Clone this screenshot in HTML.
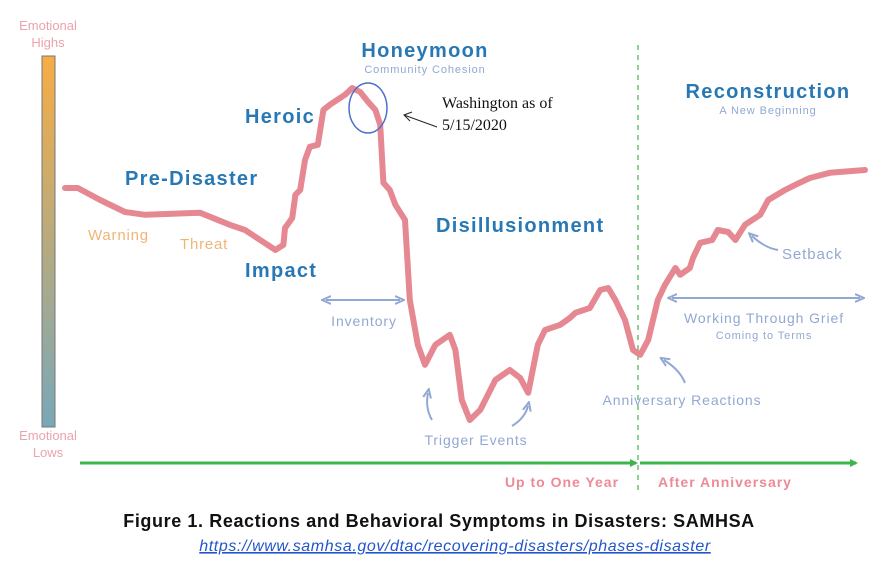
<!DOCTYPE html>
<html><head><meta charset="utf-8"><style>
body{margin:0;background:#fff;width:879px;height:575px;overflow:hidden}
svg{display:block}
.b{font-family:"Liberation Sans",sans-serif;font-weight:bold;fill:#2778b4;letter-spacing:1.3px}
.l{font-family:"Liberation Sans",sans-serif;fill:#92a8d2;letter-spacing:0.9px}
</style></head><body>
<svg width="879" height="575" viewBox="0 0 879 575" xmlns="http://www.w3.org/2000/svg">
<defs>
<linearGradient id="g" x1="0" y1="0" x2="0" y2="1"><stop offset="0" stop-color="#f7ad45"/><stop offset="1" stop-color="#78a8b9"/></linearGradient>
<marker id="ga" markerWidth="8" markerHeight="8" refX="6" refY="4" orient="auto" markerUnits="userSpaceOnUse"><path d="M0,0 L8,4 L0,8z" fill="#3cb54a"/></marker>
<marker id="ba" markerWidth="10" markerHeight="10" refX="5" refY="5" orient="auto" markerUnits="userSpaceOnUse"><path d="M0,1 L9,5 L0,9" fill="none" stroke="#92a8d2" stroke-width="2"/></marker>
<marker id="bs" markerWidth="10" markerHeight="10" refX="5" refY="5" orient="auto-start-reverse" markerUnits="userSpaceOnUse"><path d="M0,1 L9,5 L0,9" fill="none" stroke="#92a8d2" stroke-width="2"/></marker>
</defs>
<text x="48" y="30" text-anchor="middle" font-family="Liberation Sans,sans-serif" font-size="13" fill="#eba3ac">Emotional</text>
<text x="48" y="47" text-anchor="middle" font-family="Liberation Sans,sans-serif" font-size="13" fill="#eba3ac">Highs</text>
<rect x="42" y="56" width="13" height="371" fill="url(#g)" stroke="#777" stroke-width="1"/>
<text x="48" y="440" text-anchor="middle" font-family="Liberation Sans,sans-serif" font-size="13" fill="#eba3ac">Emotional</text>
<text x="48" y="457" text-anchor="middle" font-family="Liberation Sans,sans-serif" font-size="13" fill="#eba3ac">Lows</text>
<line x1="638" y1="45" x2="638" y2="492" stroke="#6cc36f" stroke-width="1.5" stroke-dasharray="5,5"/>
<line x1="80" y1="463" x2="636" y2="463" stroke="#3cb54a" stroke-width="3" marker-end="url(#ga)"/>
<line x1="640" y1="463" x2="856" y2="463" stroke="#3cb54a" stroke-width="3" marker-end="url(#ga)"/>
<text x="562" y="487" text-anchor="middle" font-family="Liberation Sans,sans-serif" font-weight="bold" font-size="14" letter-spacing="1" fill="#ec8b98">Up to One Year</text>
<text x="725" y="487" text-anchor="middle" font-family="Liberation Sans,sans-serif" font-weight="bold" font-size="14" letter-spacing="1" fill="#ec8b98">After Anniversary</text>
<g id="curve"></g>
<text class="b" x="125" y="185" font-size="20">Pre-Disaster</text>
<text x="88" y="240" font-family="Liberation Sans,sans-serif" font-size="15" letter-spacing="0.8" fill="#f0b576">Warning</text>
<text x="180" y="249" font-family="Liberation Sans,sans-serif" font-size="15" letter-spacing="0.8" fill="#f0b576">Threat</text>
<text class="b" x="245" y="277" font-size="20">Impact</text>
<text class="b" x="245" y="123" font-size="20">Heroic</text>
<text class="b" x="425" y="57" text-anchor="middle" font-size="20">Honeymoon</text>
<text class="l" x="425" y="73" text-anchor="middle" font-size="11">Community Cohesion</text>
<ellipse cx="368" cy="108" rx="19" ry="25" fill="none" stroke="#4a6fd0" stroke-width="1.5"/>
<line x1="437" y1="127" x2="404" y2="115" stroke="#222" stroke-width="1"/>
<path d="M412,112 L404,115 L410,121" fill="none" stroke="#222" stroke-width="1"/>
<text x="442" y="108" font-family="Liberation Serif,serif" font-size="16" fill="#111">Washington as of</text>
<text x="442" y="130" font-family="Liberation Serif,serif" font-size="16" fill="#111">5/15/2020</text>
<text class="b" x="436" y="232" font-size="20">Disillusionment</text>
<line x1="326" y1="300" x2="400" y2="300" stroke="#92a8d2" stroke-width="2" marker-start="url(#bs)" marker-end="url(#ba)"/>
<text class="l" x="364" y="326" text-anchor="middle" font-size="14">Inventory</text>
<path d="M432,420 Q425,408 428,393" fill="none" stroke="#92a8d2" stroke-width="2" marker-end="url(#ba)"/>
<path d="M512,426 Q525,418 528,406" fill="none" stroke="#92a8d2" stroke-width="2" marker-end="url(#ba)"/>
<text class="l" x="476" y="445" text-anchor="middle" font-size="14">Trigger Events</text>
<path d="M685,383 Q680,370 664,360" fill="none" stroke="#92a8d2" stroke-width="2" marker-end="url(#ba)"/>
<text class="l" x="682" y="405" text-anchor="middle" font-size="14">Anniversary Reactions</text>
<text class="b" x="768" y="98" text-anchor="middle" font-size="20">Reconstruction</text>
<text class="l" x="768" y="114" text-anchor="middle" font-size="11">A New Beginning</text>
<path d="M778,250 Q765,248 752,236" fill="none" stroke="#92a8d2" stroke-width="2" marker-end="url(#ba)"/>
<text class="l" x="782" y="259" font-size="15">Setback</text>
<line x1="672" y1="298" x2="860" y2="298" stroke="#92a8d2" stroke-width="2" marker-start="url(#bs)" marker-end="url(#ba)"/>
<text class="l" x="764" y="323" text-anchor="middle" font-size="14">Working Through Grief</text>
<text class="l" x="764" y="339" text-anchor="middle" font-size="11">Coming to Terms</text>
<text x="439" y="527" text-anchor="middle" font-family="Liberation Sans,sans-serif" font-weight="bold" font-size="18" letter-spacing="0.6" fill="#111">Figure 1. Reactions and Behavioral Symptoms in Disasters: SAMHSA</text>
<text x="455" y="551" text-anchor="middle" font-family="Liberation Sans,sans-serif" font-style="italic" font-size="16" letter-spacing="0.6" fill="#2255cc" text-decoration="underline">https://www.samhsa.gov/dtac/recovering-disasters/phases-disaster</text>
</svg>
<script>
const times=[0,1.6,4.4,7.5,10,16.9,20.6,22.5,26.3,27.3,27.5,28.4,28.8,29.4,30,30.6,31.6,32.3,33.1,35,35.9,36.9,37.9,38.8,39.4,39.8,40.6,41.3,42.5,43.1,44.1,45,46.3,48.1,48.8,49.6,50.6,51.9,53.8,55.6,56.9,57.9,59.1,60,61.9,63.1,63.8,65.6,66.9,67.9,68.8,70,71,71.9,72.9,74.1,75,76.3,76.9,78.1,78.5,79.4,80.9,81.6,82.9,83.8,85,86.9,87.9,90,91.3,93.1,95.6,100];
const levels=[68,68,65,62,61.3,61.8,58.8,57.5,52.5,53.8,58,60.5,66.3,67.5,75,78.3,78.8,87.5,88.8,91.3,93,92,89.5,87.5,83.8,69.3,67.5,63.8,60,40,28.8,23.8,28.8,31.3,27.5,15,10,12.5,20,22.5,20.5,16.8,28.8,32.5,33.8,35.5,36.8,38,42.5,43,40,35,27.5,26.3,30,40,43.8,48,46.3,48,50.5,54.3,55,57.5,57,55,58.8,61.3,65,67.5,68.8,70.5,71.8,72.5];
const xScale=t=>65+t*8;
const yScale=v=>460-v*4;
const g=document.getElementById('curve');
const d=times.map((t,i)=>(i?'L':'M')+xScale(t).toFixed(1)+','+yScale(levels[i]).toFixed(1)).join(' ');
const p=document.createElementNS('http://www.w3.org/2000/svg','path');
p.setAttribute('d',d);
p.setAttribute('fill','none');
p.setAttribute('stroke','#e68892');
p.setAttribute('stroke-width','6');
p.setAttribute('stroke-linejoin','round');
p.setAttribute('stroke-linecap','round');


g.appendChild(p);
</script>
</body></html>
